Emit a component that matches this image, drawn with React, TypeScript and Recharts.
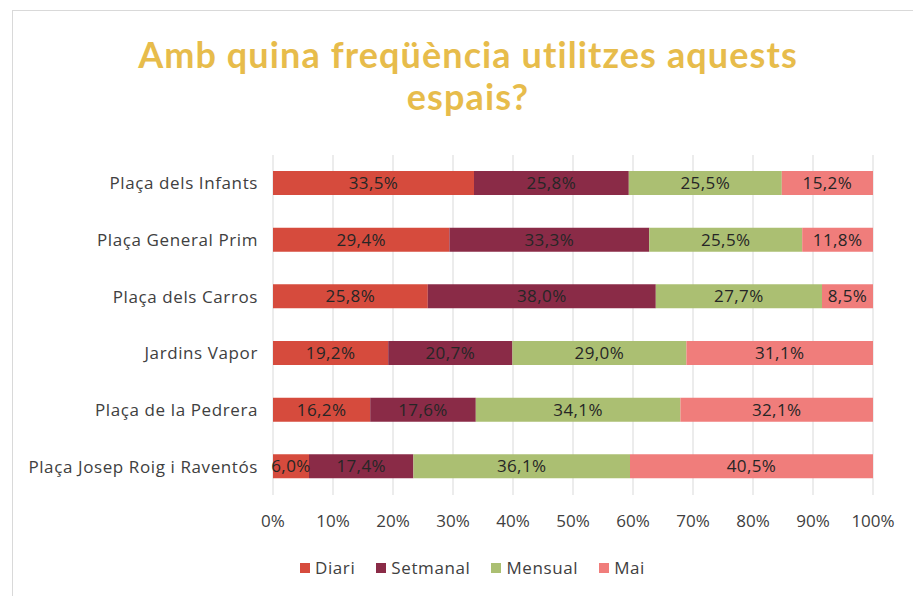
import React from "react";
import { BarChart, Bar, XAxis, YAxis, CartesianGrid, LabelList, Legend } from "recharts";

const categories = [
  "Plaça dels Infants",
  "Plaça General Prim",
  "Plaça dels Carros",
  "Jardins Vapor",
  "Plaça de la Pedrera",
  "Plaça Josep Roig i Raventós",
];
const diari = [33.5, 29.4, 25.8, 19.2, 16.2, 6.0];
const setmanal = [25.8, 33.3, 38.0, 20.7, 17.6, 17.4];
const mensual = [25.5, 25.5, 27.7, 29.0, 34.1, 36.1];
const mai = [15.2, 11.8, 8.5, 31.1, 32.1, 40.5];
const xTicks = [0, 10, 20, 30, 40, 50, 60, 70, 80, 90, 100];

const series = [
  { key: "diari", name: "Diari", color: "#D64B3D" },
  { key: "setmanal", name: "Setmanal", color: "#8A2B47" },
  { key: "mensual", name: "Mensual", color: "#ABBF72" },
  { key: "mai", name: "Mai", color: "#F07D7B" },
];

const data = categories.map((c, i) => ({
  name: c,
  diari: diari[i],
  setmanal: setmanal[i],
  mensual: mensual[i],
  mai: mai[i],
}));

const FONT = "Lato, 'Open Sans', sans-serif";
const FONT2 = "'Open Sans', Lato, sans-serif";
const fmt = (v: any) => `${Number(v).toFixed(1).replace(".", ",")}%`;

const LegendContent = () => (
  <div style={{ display: "flex", fontFamily: FONT2, fontSize: 17, letterSpacing: 0.6, color: "#404040", whiteSpace: "nowrap" }}>
    {series.map((s) => (
      <div key={s.key} style={{ display: "flex", alignItems: "center", marginRight: 21 }}>
        <span style={{ display: "inline-block", width: 10, height: 10, background: s.color, marginRight: 5 }} />
        <span>{s.name}</span>
      </div>
    ))}
  </div>
);

export default function App() {
  return (
    <div style={{ position: "absolute", left: 0, top: 0, width: 913, height: 596, overflow: "hidden", background: "#fff" }}>
      <div style={{ position: "absolute", left: 12, top: 10, width: 1000, height: 700, border: "1.5px solid #D9D9D9", boxSizing: "border-box" }} />
      <div
        style={{
          position: "absolute",
          left: 12,
          width: 912,
          top: 33,
          textAlign: "center",
          fontFamily: FONT,
          fontWeight: 700,
          fontSize: 36,
          letterSpacing: 1.1,
          lineHeight: "42px",
          color: "#E7BC4B",
        }}
      >
        Amb quina freqüència utilitzes aquests
        <br />
        espais?
      </div>
      <div style={{ position: "absolute", left: 0, top: 0 }}>
        <BarChart
          width={913}
          height={596}
          data={data}
          layout="vertical"
          margin={{ top: 155, right: 40, bottom: 71, left: 0 }}
          barSize={24}
        >
          <CartesianGrid horizontal={false} stroke="#D9D9D9" />
          <XAxis
            type="number"
            domain={[0, 100]}
            ticks={xTicks}
            tickFormatter={(v) => `${v}%`}
            axisLine={false}
            tickLine={false}
            tickMargin={14}
            tick={{ fill: "#404040", fontSize: 17, fontFamily: FONT2 }}
            height={30}
          />
          <YAxis
            type="category"
            dataKey="name"
            width={273}
            axisLine={false}
            tickLine={false}
            tickMargin={9}
            tick={{ fill: "#404040", fontSize: 17, fontFamily: FONT2, letterSpacing: 0.6 }}
          />
          <Legend
            verticalAlign="middle"
            align="center"
            layout="horizontal"
            content={<LegendContent />}
            wrapperStyle={{ position: "absolute", top: 556, left: 300, width: "auto" }}
          />
          {series.map((s) => (
            <Bar key={s.key} dataKey={s.key} name={s.name} stackId="a" fill={s.color} isAnimationActive={false}>
              <LabelList
                dataKey={s.key}
                position="center"
                formatter={fmt}
                style={{ fill: "#262626", fontSize: 17, fontFamily: FONT2, letterSpacing: 0.4 }}
              />
            </Bar>
          ))}
        </BarChart>
      </div>
    </div>
  );
}
